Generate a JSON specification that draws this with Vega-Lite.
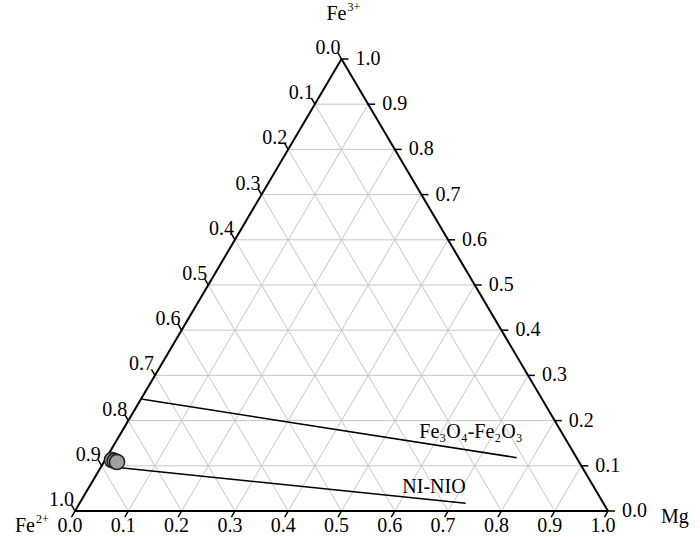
{
  "$schema": "https://vega.github.io/schema/vega-lite/v6.json",
  "width": 533,
  "height": 452,
  "autosize": {"type": "none"},
  "padding": {"left": 75, "top": 59, "right": 92, "bottom": 26},
  "background": "white",
  "config": {"view": {"stroke": null}, "text": {"font": "Liberation Serif", "color": "black"}},
  "datasets": {
    "grid": [
      {"x": 0.05, "y": 0.1, "x2": 0.95, "y2": 0.1},
      {"x": 0.1, "y": 0.2, "x2": 0.9, "y2": 0.2},
      {"x": 0.15, "y": 0.3, "x2": 0.85, "y2": 0.3},
      {"x": 0.2, "y": 0.4, "x2": 0.8, "y2": 0.4},
      {"x": 0.25, "y": 0.5, "x2": 0.75, "y2": 0.5},
      {"x": 0.3, "y": 0.6, "x2": 0.7, "y2": 0.6},
      {"x": 0.35, "y": 0.7, "x2": 0.65, "y2": 0.7},
      {"x": 0.4, "y": 0.8, "x2": 0.6, "y2": 0.8},
      {"x": 0.45, "y": 0.9, "x2": 0.55, "y2": 0.9},
      {"x": 0.1, "y": 0, "x2": 0.55, "y2": 0.9},
      {"x": 0.2, "y": 0, "x2": 0.6, "y2": 0.8},
      {"x": 0.3, "y": 0, "x2": 0.65, "y2": 0.7},
      {"x": 0.4, "y": 0, "x2": 0.7, "y2": 0.6},
      {"x": 0.5, "y": 0, "x2": 0.75, "y2": 0.5},
      {"x": 0.6, "y": 0, "x2": 0.8, "y2": 0.4},
      {"x": 0.7, "y": 0, "x2": 0.85, "y2": 0.3},
      {"x": 0.8, "y": 0, "x2": 0.9, "y2": 0.2},
      {"x": 0.9, "y": 0, "x2": 0.95, "y2": 0.1},
      {"x": 0.9, "y": 0, "x2": 0.45, "y2": 0.9},
      {"x": 0.8, "y": 0, "x2": 0.4, "y2": 0.8},
      {"x": 0.7, "y": 0, "x2": 0.35, "y2": 0.7},
      {"x": 0.6, "y": 0, "x2": 0.3, "y2": 0.6},
      {"x": 0.5, "y": 0, "x2": 0.25, "y2": 0.5},
      {"x": 0.4, "y": 0, "x2": 0.2, "y2": 0.4},
      {"x": 0.3, "y": 0, "x2": 0.15, "y2": 0.3},
      {"x": 0.2, "y": 0, "x2": 0.1, "y2": 0.2},
      {"x": 0.1, "y": 0, "x2": 0.05, "y2": 0.1}
    ],
    "edges": [
      {"x": 0, "y": 0, "x2": 1, "y2": 0},
      {"x": 0, "y": 0, "x2": 0.5, "y2": 1},
      {"x": 1, "y": 0, "x2": 0.5, "y2": 1}
    ],
    "axis": [
      {"side": "bottom", "v": 0.0, "x": 0.0, "y": 0},
      {"side": "bottom", "v": 0.1, "x": 0.1, "y": 0},
      {"side": "bottom", "v": 0.2, "x": 0.2, "y": 0},
      {"side": "bottom", "v": 0.3, "x": 0.3, "y": 0},
      {"side": "bottom", "v": 0.4, "x": 0.4, "y": 0},
      {"side": "bottom", "v": 0.5, "x": 0.5, "y": 0},
      {"side": "bottom", "v": 0.6, "x": 0.6, "y": 0},
      {"side": "bottom", "v": 0.7, "x": 0.7, "y": 0},
      {"side": "bottom", "v": 0.8, "x": 0.8, "y": 0},
      {"side": "bottom", "v": 0.9, "x": 0.9, "y": 0},
      {"side": "bottom", "v": 1.0, "x": 1.0, "y": 0},
      {"side": "right", "v": 0.0, "x": 1.0, "y": 0.0},
      {"side": "right", "v": 0.1, "x": 0.95, "y": 0.1},
      {"side": "right", "v": 0.2, "x": 0.9, "y": 0.2},
      {"side": "right", "v": 0.3, "x": 0.85, "y": 0.3},
      {"side": "right", "v": 0.4, "x": 0.8, "y": 0.4},
      {"side": "right", "v": 0.5, "x": 0.75, "y": 0.5},
      {"side": "right", "v": 0.6, "x": 0.7, "y": 0.6},
      {"side": "right", "v": 0.7, "x": 0.65, "y": 0.7},
      {"side": "right", "v": 0.8, "x": 0.6, "y": 0.8},
      {"side": "right", "v": 0.9, "x": 0.55, "y": 0.9},
      {"side": "right", "v": 1.0, "x": 0.5, "y": 1.0},
      {"side": "left", "v": 0.0, "x": 0.5, "y": 1.0},
      {"side": "left", "v": 0.1, "x": 0.45, "y": 0.9},
      {"side": "left", "v": 0.2, "x": 0.4, "y": 0.8},
      {"side": "left", "v": 0.3, "x": 0.35, "y": 0.7},
      {"side": "left", "v": 0.4, "x": 0.3, "y": 0.6},
      {"side": "left", "v": 0.5, "x": 0.25, "y": 0.5},
      {"side": "left", "v": 0.6, "x": 0.2, "y": 0.4},
      {"side": "left", "v": 0.7, "x": 0.15, "y": 0.3},
      {"side": "left", "v": 0.8, "x": 0.1, "y": 0.2},
      {"side": "left", "v": 0.9, "x": 0.05, "y": 0.1},
      {"side": "left", "v": 1.0, "x": 0.0, "y": 0.0}
    ],
    "lines": [
      {"name": "Fe3O4-Fe2O3", "o": 0, "x": 0.1239, "y": 0.2478},
      {"name": "Fe3O4-Fe2O3", "o": 1, "x": 0.8287, "y": 0.118},
      {"name": "NI-NIO", "o": 0, "x": 0.0807, "y": 0.0962},
      {"name": "NI-NIO", "o": 1, "x": 0.733, "y": 0.017}
    ],
    "samples": [
      {"x": 0.0694, "y": 0.1128},
      {"x": 0.0745, "y": 0.1106},
      {"x": 0.0788, "y": 0.1084}
    ],
    "notes": [
      {"x": 0.743, "y": 0.1615, "t": "Fe₃O₄-Fe₂O₃"},
      {"x": 0.6735, "y": 0.0398, "t": "NI-NIO"}
    ]
  },
  "encoding": {
    "x": {"field": "x", "type": "quantitative", "scale": {"domain": [0, 1], "nice": false, "zero": false}, "axis": null},
    "y": {"field": "y", "type": "quantitative", "scale": {"domain": [0, 1], "nice": false, "zero": false}, "axis": null}
  },
  "layer": [
    {
      "data": {"name": "grid"},
      "mark": {"type": "rule", "color": "#c6c6c6", "strokeWidth": 1},
      "encoding": {"x2": {"field": "x2"}, "y2": {"field": "y2"}}
    },
    {
      "data": {"name": "edges"},
      "mark": {"type": "rule", "color": "black", "strokeWidth": 2},
      "encoding": {"x2": {"field": "x2"}, "y2": {"field": "y2"}}
    },
    {
      "data": {"name": "axis"},
      "mark": {"type": "point", "filled": false, "stroke": "black", "strokeWidth": 1.5, "size": 196, "opacity": 1},
      "encoding": {
        "shape": {"field": "side", "type": "nominal", "legend": null,
          "scale": {"domain": ["bottom", "left", "right"], "range": ["M0,0L-0.5,0.87", "M0,0L-0.5,-0.87", "M0,0L1,0"]}}
      }
    },
    {
      "data": {"name": "axis"},
      "transform": [{"filter": "datum.side === 'bottom'"}],
      "mark": {"type": "text", "fontSize": 20, "align": "center", "baseline": "alphabetic", "dx": -5, "dy": 21},
      "encoding": {"text": {"field": "v", "type": "quantitative", "format": ".1f"}}
    },
    {
      "data": {"name": "axis"},
      "transform": [{"filter": "datum.side === 'right'"}],
      "mark": {"type": "text", "fontSize": 20, "align": "left", "baseline": "alphabetic", "dx": 14, "dy": 6},
      "encoding": {"text": {"field": "v", "type": "quantitative", "format": ".1f"}}
    },
    {
      "data": {"name": "axis"},
      "transform": [{"filter": "datum.side === 'left'"}],
      "mark": {"type": "text", "fontSize": 20, "align": "right", "baseline": "alphabetic", "dx": -1, "dy": -5},
      "encoding": {"text": {"field": "v", "type": "quantitative", "format": ".1f"}}
    },
    {
      "data": {"name": "lines"},
      "mark": {"type": "line", "color": "black", "strokeWidth": 1.5},
      "encoding": {"detail": {"field": "name"}, "order": {"field": "o"}}
    },
    {
      "data": {"name": "samples"},
      "mark": {"type": "point", "shape": "circle", "filled": true, "fill": "#a0a0a0", "stroke": "#222222", "strokeWidth": 1.5, "size": 230, "opacity": 1}
    },
    {
      "data": {"name": "notes"},
      "mark": {"type": "text", "fontSize": 20, "align": "center", "baseline": "alphabetic"},
      "encoding": {"text": {"field": "t"}}
    },
    {
      "data": {"values": [{"x": 0.5, "y": 1, "t": "Fe"}]},
      "mark": {"type": "text", "fontSize": 20, "align": "right", "baseline": "alphabetic", "dx": 5, "dy": -39},
      "encoding": {"text": {"field": "t"}}
    },
    {
      "data": {"values": [{"x": 0.5, "y": 1, "t": "3+"}]},
      "mark": {"type": "text", "fontSize": 12, "align": "left", "baseline": "alphabetic", "dx": 6, "dy": -48},
      "encoding": {"text": {"field": "t"}}
    },
    {
      "data": {"values": [{"x": 0, "y": 0, "t": "Fe"}]},
      "mark": {"type": "text", "fontSize": 20, "align": "right", "baseline": "alphabetic", "dx": -40, "dy": 21},
      "encoding": {"text": {"field": "t"}}
    },
    {
      "data": {"values": [{"x": 0, "y": 0, "t": "2+"}]},
      "mark": {"type": "text", "fontSize": 12, "align": "left", "baseline": "alphabetic", "dx": -39, "dy": 12},
      "encoding": {"text": {"field": "t"}}
    },
    {
      "data": {"values": [{"x": 1, "y": 0, "t": "Mg"}]},
      "mark": {"type": "text", "fontSize": 20, "align": "left", "baseline": "alphabetic", "dx": 53, "dy": 12},
      "encoding": {"text": {"field": "t"}}
    }
  ]
}
